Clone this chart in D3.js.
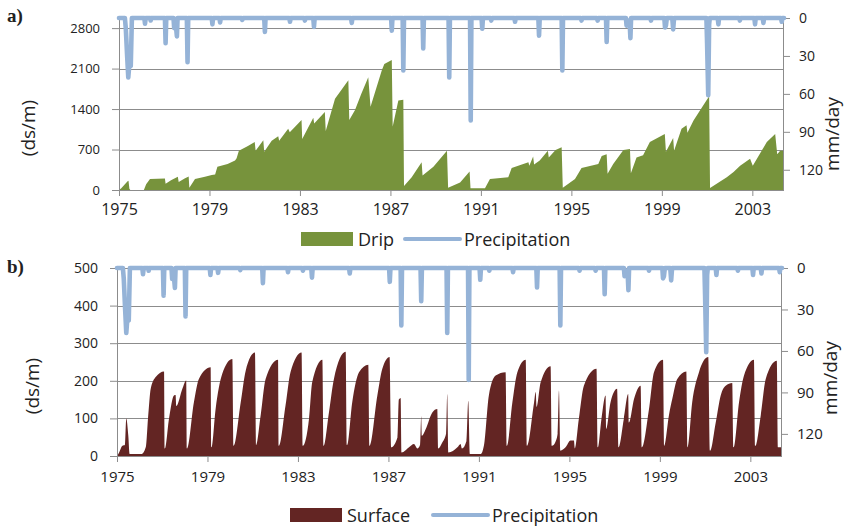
<!DOCTYPE html>
<html><head><meta charset="utf-8">
<script src="https://cdn.jsdelivr.net/npm/d3@7"></script>
<style>
body{margin:0;background:#fff;}
svg text{font-family:"Open Sans","Noto Sans",sans-serif;fill:#222;}
</style></head>
<body><svg id="c" width="846" height="526"></svg>
<script>
// ---------- data ----------
const yearTicks = [1975,1979,1983,1987,1991,1995,1999,2003];
const dripTicks = [0,700,1400,2100,2800];
const surfaceTicks = [0,100,200,300,400,500];
const precipTicks = [0,30,60,90,120];

const dripYears = [1975.00,1975.10,1975.38,1975.42,1975.46,1975.50,1976.10,1976.20,1976.37,1976.70,1977.03,1977.06,1977.30,1977.60,1977.64,1977.90,1978.08,1978.11,1978.36,1978.80,1979.10,1979.25,1979.35,1979.80,1980.13,1980.20,1980.30,1980.70,1981.00,1981.04,1981.38,1981.42,1981.75,1982.04,1982.08,1982.48,1982.55,1983.07,1983.10,1983.59,1983.63,1984.10,1984.14,1984.55,1985.14,1985.18,1985.43,1985.70,1986.02,1986.12,1986.62,1986.73,1987.06,1987.10,1987.35,1987.57,1987.60,1987.94,1988.38,1988.42,1988.90,1989.50,1989.55,1990.08,1990.50,1990.54,1991.18,1991.40,1992.21,1992.36,1993.10,1993.14,1993.31,1993.35,1993.60,1993.96,1994.00,1994.30,1994.57,1994.62,1995.16,1995.45,1996.19,1996.34,1996.56,1996.60,1996.85,1997.30,1997.59,1997.63,1997.88,1998.17,1998.47,1999.13,1999.18,1999.50,1999.54,1999.87,2000.09,2000.13,2000.40,2001.09,2001.13,2001.87,2002.17,2002.46,2002.90,2003.02,2003.64,2004.01,2004.10,2004.23,2004.40];
const dripValues = [0,30,150,160,20,0,0,100,190,195,200,110,170,230,140,200,235,40,190,230,260,270,400,450,510,550,680,760,830,680,860,660,850,930,850,1060,1000,1210,880,1250,1150,1350,1020,1580,1900,1210,1380,1650,1950,1440,2070,2180,2250,1100,1550,1560,70,220,480,250,400,680,40,130,320,30,30,190,220,380,480,420,580,440,510,680,560,690,740,40,190,380,450,590,620,280,450,690,710,290,560,600,830,970,660,900,680,1060,1120,990,1200,1620,35,220,310,420,540,420,830,970,620,680,680];

const surfaceYears = [1975.00,1975.06,1975.24,1975.35,1975.41,1975.50,1975.56,1976.09,1976.27,1976.38,1976.49,1976.71,1977.08,1977.12,1977.30,1977.52,1977.59,1977.62,1977.89,1978.06,1978.10,1978.40,1978.62,1979.14,1979.18,1979.36,1979.65,1980.10,1980.15,1980.47,1980.69,1981.10,1981.15,1981.35,1981.57,1982.12,1982.16,1982.45,1982.67,1983.16,1983.21,1983.49,1983.63,1984.08,1984.13,1984.37,1984.59,1985.11,1985.17,1985.40,1985.70,1986.11,1986.16,1986.51,1986.73,1987.05,1987.12,1987.40,1987.46,1987.54,1987.58,1987.91,1988.13,1988.28,1988.40,1988.45,1988.48,1988.65,1988.94,1989.16,1989.20,1989.38,1989.55,1989.60,1989.65,1990.05,1990.19,1990.25,1990.45,1990.53,1990.60,1991.08,1991.22,1991.44,1991.74,1992.18,1992.24,1992.48,1992.70,1993.07,1993.13,1993.44,1993.51,1993.55,1993.73,1994.17,1994.23,1994.40,1994.48,1994.54,1994.60,1994.83,1995.05,1995.20,1995.24,1995.42,1995.64,1996.20,1996.26,1996.42,1996.60,1996.63,1996.82,1997.11,1997.17,1997.41,1997.60,1997.63,1997.86,1998.15,1998.21,1998.52,1998.74,1999.14,1999.19,1999.40,1999.55,1999.77,2000.17,2000.22,2000.43,2000.73,2001.14,2001.22,2001.47,2001.69,2001.91,2002.20,2002.26,2002.50,2002.72,2003.16,2003.22,2003.46,2003.68,2004.17,2004.22,2004.40];
const surfaceValues = [0,5,27,29,100,54,5,5,23,108,179,210,225,20,100,161,162,133,179,201,20,143,205,236,23,125,218,258,27,143,227,275,29,108,205,256,27,134,223,275,27,100,196,256,27,116,205,277,29,143,223,243,27,161,232,263,23,50,150,154,9,23,32,20,30,106,54,72,116,125,20,36,60,165,9,23,32,20,40,147,5,5,27,161,214,223,27,143,223,256,27,143,170,130,196,239,27,40,60,174,14,23,41,41,20,100,187,232,23,100,161,72,143,179,23,100,165,89,152,187,23,125,223,256,27,108,152,205,225,23,143,223,263,14,89,161,187,194,23,143,214,256,27,108,205,253,23,23];

const precipYears = [1975.00,1975.26,1975.30,1975.36,1975.41,1975.46,1975.52,1975.57,1976.12,1976.15,1976.18,1976.38,1976.40,1976.42,1977.03,1977.06,1977.09,1977.41,1977.44,1977.50,1977.56,1977.59,1978.00,1978.03,1978.06,1979.10,1979.13,1979.16,1979.44,1979.47,1979.50,1980.42,1980.45,1980.48,1981.42,1981.45,1981.48,1982.53,1982.56,1982.59,1983.19,1983.22,1983.25,1983.59,1983.62,1983.65,1985.26,1985.29,1985.32,1987.03,1987.06,1987.09,1987.54,1987.57,1987.60,1988.42,1988.45,1988.48,1989.57,1989.60,1989.63,1990.52,1990.55,1990.58,1991.03,1991.06,1991.09,1991.43,1991.46,1991.49,1992.48,1992.51,1992.54,1993.54,1993.57,1993.60,1994.57,1994.60,1994.63,1995.42,1995.45,1995.48,1996.13,1996.16,1996.19,1996.53,1996.56,1996.59,1997.41,1997.44,1997.52,1997.58,1997.61,1997.64,1998.49,1998.52,1998.55,1999.11,1999.14,1999.18,1999.22,1999.46,1999.50,1999.54,2000.97,2001.00,2001.05,2001.09,2001.12,2001.47,2001.50,2001.53,2002.42,2002.45,2002.48,2003.09,2003.12,2003.15,2003.46,2003.49,2003.52,2004.27,2004.30,2004.33,2004.40];
const precipValues = [0,0,8,30,47,36,38,0,0,4.5,0,0,2,0,0,20,0,0,8,3,14.5,0,0,35,0,0,5,0,0,3.5,0,0,1.5,0,0,11,0,0,3,0,0,2,0,0,7,0,0,4,0,0,10,0,0,41.5,0,0,24,0,0,47,0,0,81,0,0,8.5,0,0,2,0,0,3,0,0,14,0,0,41.5,0,0,2,0,0,2,0,0,19,0,0,6,2,5,16,0,0,2,0,0,7.5,6,0,0,9,0,0,20,61,5,0,0,5,0,0,2,0,0,5,0,0,4,0,0,3,0,0];

// ---------- drawing ----------
const svg = d3.select("#c");
const GRID = "#8c8c8c", PREC = "#95b3d7";

function panel(o){
  const g = svg.append("g");
  const x = d3.scaleLinear().domain([1975, 2004.4]).range([o.x0, o.x1]);
  const y = d3.scaleLinear().domain([0, o.ymax]).range([o.yb, o.yt]);
  const yp = d3.scaleLinear().domain([0, 136]).range([o.yt, o.yb]);

  // gridlines
  g.append("g").selectAll("line").data(o.ticks.filter(d=>d>0)).join("line")
    .attr("x1", o.x0).attr("x2", o.x1).attr("y1", d=>Math.round(y(d))+0.5).attr("y2", d=>Math.round(y(d))+0.5)
    .attr("stroke", GRID).attr("stroke-width", 1);

  // area
  const data = o.years.map((t,i)=>[t, o.values[i]]);
  g.append("path").datum(data)
    .attr("d", d3.area().curve(o.curve).x(d=>x(d[0])).y0(y(0)).y1(d=>y(d[1])))
    .attr("fill", o.color);

  // axes
  const la = g.append("g").attr("transform", `translate(${o.x0},0)`)
    .call(d3.axisLeft(y).tickValues(o.ticks).tickFormat(d3.format("d")).tickSize(7).tickPadding(o.lpad));
  const ra = g.append("g").attr("transform", `translate(${o.x1},0)`)
    .call(d3.axisRight(yp).tickValues(precipTicks).tickSize(6).tickPadding(9));
  const ba = g.append("g").attr("transform", `translate(0,${o.yb})`)
    .call(d3.axisBottom(x).tickValues(yearTicks).tickFormat(d3.format("d")).tickSize(6).tickPadding(o.bpad));
  [la, ra, ba].forEach(a=>{
    a.selectAll("path").attr("stroke", GRID);
    a.selectAll("line").attr("stroke", GRID);
    a.selectAll("text").attr("fill", "#222").style("font-family", '"Open Sans",sans-serif');
  });
  la.selectAll("text").style("font-size", o.lfs+"px");
  ra.selectAll("text").style("font-size", o.lfs+1+"px");
  ba.selectAll("text").style("font-size", o.bfs+"px");
  la.select("path").attr("d", `M0.5,${o.yt}V${o.yb}`);
  ra.select("path").attr("d", `M-0.5,${o.yt}V${o.yb}`);
  ba.select("path").attr("d", `M${o.x0},0.5H${o.x1}`);

  // precipitation (secondary axis, reversed)
  const pdata = o.pyears.map((t,i)=>[t, o.pvalues[i]]);
  g.append("path").datum(pdata)
    .attr("d", d3.line().x(d=>x(d[0])).y(d=>yp(d[1])))
    .attr("stroke", PREC).attr("stroke-width", 4.6).attr("stroke-linejoin","round")
    .attr("stroke-linecap","round").attr("fill","none");

  // titles
  g.append("text").attr("transform", `translate(${o.ltx},${o.lty}) rotate(-90)`)
    .attr("text-anchor","middle").attr("dominant-baseline","central").style("font-size","19px").text("(ds/m)");
  g.append("text").attr("transform", `translate(${o.rtx},${o.rty}) rotate(-90)`)
    .attr("text-anchor","middle").attr("dominant-baseline","central").style("font-size","19px").text("mm/day");
  g.append("text").attr("x", 7).attr("y", o.labY)
    .style("font-family",'"Liberation Serif",serif').style("font-weight","bold").style("font-size","19px").text(o.label);

  // legend
  const line = d3.line();
  const lg = g.append("g");
  lg.append("rect").attr("x", o.lx).attr("y", o.ly-7).attr("width", 52).attr("height", 14).attr("fill", o.color);
  lg.append("text").attr("x", o.lx+57).attr("y", o.ly+7).style("font-size","18px").text(o.name);
  lg.append("path").attr("d", line([[o.px, o.ly],[o.px+55, o.ly]]))
    .attr("stroke", PREC).attr("stroke-width", 4).attr("stroke-linecap","round");
  lg.append("text").attr("x", o.px+59).attr("y", o.ly+7).style("font-size","18px").text("Precipitation");
}

panel({x0:119, x1:784, yt:18, yb:190, ymax:2975, ticks:dripTicks, years:dripYears, values:dripValues,
  curve:d3.curveLinear, color:"#77933c", pyears:precipYears, pvalues:precipValues, lpad:12, bpad:8, lfs:13, bfs:16,
  ltx:28, lty:128, rtx:832, rty:134, label:"a)", labY:22,
  lx:301, ly:239, name:"Drip", px:405});
panel({x0:117, x1:782, yt:268, yb:456, ymax:500, ticks:surfaceTicks, years:surfaceYears, values:surfaceValues,
  curve:d3.curveMonotoneX, color:"#632523", pyears:precipYears, pvalues:precipValues, lpad:12, bpad:9, lfs:14, bfs:15,
  ltx:32, lty:386, rtx:830, rty:378, label:"b)", labY:273,
  lx:290, ly:515, name:"Surface", px:433});
</script></body></html>
